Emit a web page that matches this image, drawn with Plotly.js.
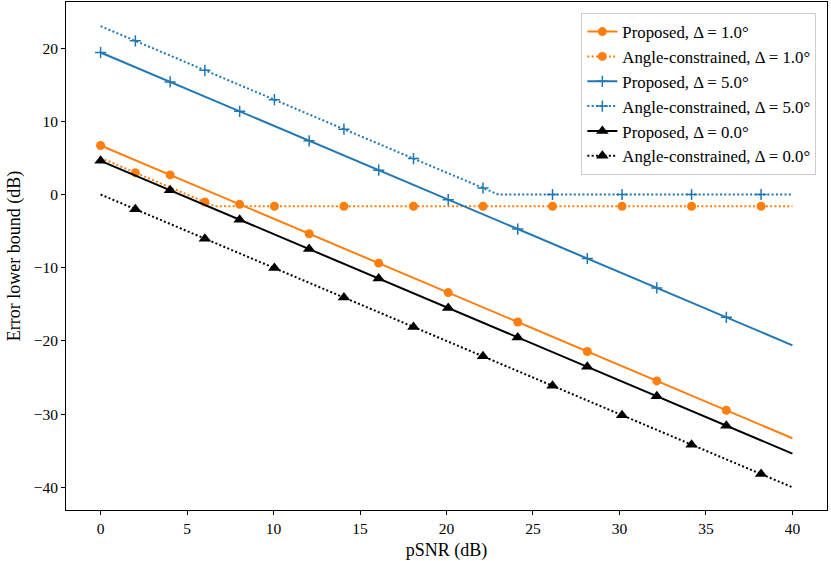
<!DOCTYPE html>
<html>
<head>
<meta charset="utf-8">
<script src="https://cdn.plot.ly/plotly-3.0.1.min.js"></script>
<style>html,body{margin:0;padding:0;background:#fff;}#chart{width:831px;height:561px;}</style>
</head>
<body>
<div id="chart"></div>
<script>
// Series names
const names = [
  "Proposed, Δ = 1.0°",
  "Angle-constrained, Δ = 1.0°",
  "Proposed, Δ = 5.0°",
  "Angle-constrained, Δ = 5.0°",
  "Proposed, Δ = 0.0°",
  "Angle-constrained, Δ = 0.0°"
];

// Line data (endpoints and kinks)
const prop1LineX = [0, 40];
const prop1LineY = [6.7, -33.3];
const ac1LineX = [0, 6.6, 40];
const ac1LineY = [5.0, -1.6, -1.6];
const prop5LineX = [0, 40];
const prop5LineY = [19.4, -20.6];
const ac5LineX = [0, 23, 40];
const ac5LineY = [23.0, 0.0, 0.0];
const prop0LineX = [0, 40];
const prop0LineY = [4.6, -35.4];
const ac0LineX = [0, 40];
const ac0LineY = [0.0, -40.0];

// Marker positions
const propMarkX = [0, 4.02, 8.04, 12.06, 16.08, 20.10, 24.12, 28.14, 32.16, 36.18];
const acMarkX = [2.01, 6.03, 10.05, 14.07, 18.09, 22.11, 26.13, 30.15, 34.17, 38.19];

const prop1MarkY = [6.70, 2.68, -1.34, -5.36, -9.38, -13.40, -17.42, -21.44, -25.46, -29.48];
const ac1MarkY = [2.99, -1.03, -1.6, -1.6, -1.6, -1.6, -1.6, -1.6, -1.6, -1.6];
const prop5MarkY = [19.40, 15.38, 11.36, 7.34, 3.32, -0.70, -4.72, -8.74, -12.76, -16.78];
const ac5MarkY = [20.99, 16.97, 12.95, 8.93, 4.91, 0.89, 0, 0, 0, 0];
const prop0MarkY = [4.60, 0.58, -3.44, -7.46, -11.48, -15.50, -19.52, -23.54, -27.56, -31.58];
const ac0MarkY = [-2.01, -6.03, -10.05, -14.07, -18.09, -22.11, -26.13, -30.15, -34.17, -38.19];

// Tick labels
const xTicks = [0, 5, 10, 15, 20, 25, 30, 35, 40];
const yTicks = [-40, -30, -20, -10, 0, 10, 20];

const ORANGE = "#ff7f0e", BLUE = "#1f77b4", BLACK = "#000000";
const DOT = "2px,2.3px";
const LW = 2;

const series = [
  {name: names[0], lx: prop1LineX, ly: prop1LineY, mx: propMarkX, my: prop1MarkY, color: ORANGE, dash: "solid", symbol: "circle", size: 9, mline: 0},
  {name: names[1], lx: ac1LineX, ly: ac1LineY, mx: acMarkX, my: ac1MarkY, color: ORANGE, dash: DOT, symbol: "circle", size: 9, mline: 0},
  {name: names[2], lx: prop5LineX, ly: prop5LineY, mx: propMarkX, my: prop5MarkY, color: BLUE, dash: "solid", symbol: "cross-thin", size: 8, mline: 1.5},
  {name: names[3], lx: ac5LineX, ly: ac5LineY, mx: acMarkX, my: ac5MarkY, color: BLUE, dash: DOT, symbol: "cross-thin", size: 8, mline: 1.5},
  {name: names[4], lx: prop0LineX, ly: prop0LineY, mx: propMarkX, my: prop0MarkY, color: BLACK, dash: "solid", symbol: "triangle-up", size: 11, mline: 0},
  {name: names[5], lx: ac0LineX, ly: ac0LineY, mx: acMarkX, my: ac0MarkY, color: BLACK, dash: DOT, symbol: "triangle-up", size: 11, mline: 0}
];

const traces = [];
series.forEach((s, i) => {
  traces.push({
    x: s.lx, y: s.ly, mode: "lines", type: "scatter",
    line: {color: s.color, width: LW, dash: s.dash},
    showlegend: false, legendgroup: "g" + i, hoverinfo: "skip"
  });
  traces.push({
    x: s.mx, y: s.my, mode: "markers", type: "scatter",
    marker: {color: s.color, symbol: s.symbol, size: s.size, line: {color: s.color, width: s.mline}},
    showlegend: false, legendgroup: "g" + i
  });
  traces.push({
    x: [null], y: [null], mode: "lines+markers", type: "scatter", name: s.name,
    line: {color: s.color, width: LW, dash: s.dash},
    marker: {color: s.color, symbol: s.symbol, size: s.size, line: {color: s.color, width: s.mline}},
    legendgroup: "g" + i
  });
});

const FONT = "Liberation Serif, DejaVu Serif, serif";

const layout = {
  width: 831, height: 561,
  margin: {l: 66, r: 4, t: 2, b: 51},
  paper_bgcolor: "#ffffff", plot_bgcolor: "#ffffff",
  font: {family: FONT, size: 15, color: "#000"},
  showlegend: true,
  legend: {
    x: 0.986, y: 0.978, xanchor: "right", yanchor: "top",
    bgcolor: "rgba(255,255,255,0.8)", bordercolor: "#cccccc", borderwidth: 1,
    font: {family: FONT, size: 16.8, color: "#000"},
    tracegroupgap: 0, itemwidth: 30
  },
  xaxis: {
    range: [-2, 42], tickvals: xTicks, ticktext: xTicks.map(String),
    showgrid: false, zeroline: false, showline: true, mirror: true,
    linecolor: "#000", linewidth: 1, ticks: "outside", ticklen: 4, tickwidth: 1, tickcolor: "#000",
    tickfont: {family: FONT, size: 15.5},
    title: {text: "pSNR (dB)", font: {family: FONT, size: 18}, standoff: 8}
  },
  yaxis: {
    range: [-43.1, 26.3], tickvals: yTicks, ticktext: yTicks.map(v => v < 0 ? "\u2212" + Math.abs(v) : String(v)),
    showgrid: false, zeroline: false, showline: true, mirror: true,
    linecolor: "#000", linewidth: 1, ticks: "outside", ticklen: 4, tickwidth: 1, tickcolor: "#000",
    tickfont: {family: FONT, size: 15.5},
    title: {text: "Error lower bound (dB)", font: {family: FONT, size: 18}, standoff: 8}
  }
};

Plotly.newPlot("chart", traces, layout, {displayModeBar: false, staticPlot: true});
</script>
</body>
</html>
